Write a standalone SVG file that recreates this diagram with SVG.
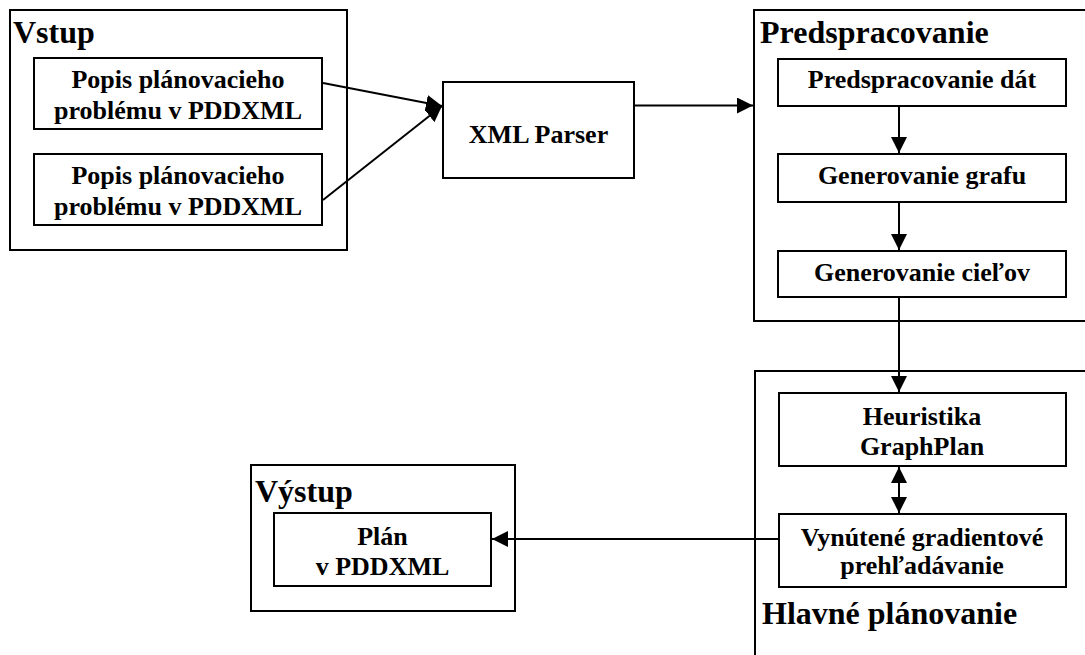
<svg xmlns="http://www.w3.org/2000/svg" width="1085" height="655" viewBox="0 0 1085 655">
  <style>
    .box { fill: #fff; stroke: #000; stroke-width: 2; }
    .frame { fill: none; stroke: #000; stroke-width: 2; }
    .edge { fill: none; stroke: #000; stroke-width: 2; }
    text { font-family: "Liberation Serif", "Times New Roman", serif; font-weight: bold; fill: #000; }
    .title { font-size: 32px; }
    .label { font-size: 26px; text-anchor: middle; }
  </style>
  <defs>
    <marker id="arrow" markerUnits="userSpaceOnUse" markerWidth="16" markerHeight="16" viewBox="0 0 16 16" refX="16" refY="8" orient="auto-start-reverse">
      <path d="M0,0 L16,8 L0,16 Z" fill="#000"/>
    </marker>
  </defs>
  <rect width="1085" height="655" fill="#fff"/>

  <!-- Input group -->
  <g id="vstup">
    <rect class="frame" x="10" y="10" width="337" height="240"/>
    <text class="title" x="13" y="43">Vstup</text>
  </g>
  <g id="popis1">
    <rect class="box" x="34" y="58" width="288" height="71"/>
    <text class="label" x="178" y="88">Popis plánovacieho</text>
    <text class="label" x="178" y="119">problému v PDDXML</text>
  </g>
  <g id="popis2">
    <rect class="box" x="34" y="154" width="288" height="71"/>
    <text class="label" x="178" y="184">Popis plánovacieho</text>
    <text class="label" x="178" y="215">problému v PDDXML</text>
  </g>

  <!-- Parser -->
  <g id="xml-parser">
    <rect class="box" x="443" y="82" width="191" height="96"/>
    <text class="label" x="538.5" y="143">XML Parser</text>
  </g>

  <!-- Preprocessing group -->
  <g id="predspracovanie">
    <rect class="frame" x="754" y="10" width="360" height="311"/>
    <text class="title" x="760" y="43">Predspracovanie</text>
  </g>
  <g id="predspracovanie-dat">
    <rect class="box" x="778" y="59" width="288" height="47"/>
    <text class="label" x="922" y="88">Predspracovanie dát</text>
  </g>
  <g id="generovanie-grafu">
    <rect class="box" x="778" y="154" width="288" height="48"/>
    <text class="label" x="922" y="184">Generovanie grafu</text>
  </g>
  <g id="generovanie-cielov">
    <rect class="box" x="778" y="251" width="288" height="46"/>
    <text class="label" x="922" y="281">Generovanie cieľov</text>
  </g>

  <!-- Main planning group -->
  <g id="hlavne-planovanie">
    <rect class="frame" x="755" y="371" width="360" height="320"/>
    <text class="title" x="762" y="624">Hlavné plánovanie</text>
  </g>
  <g id="heuristika">
    <rect class="box" x="779" y="393" width="287" height="73"/>
    <text class="label" x="922" y="425">Heuristika</text>
    <text class="label" x="922" y="455">GraphPlan</text>
  </g>
  <g id="vynutene">
    <rect class="box" x="779" y="514" width="287" height="73"/>
    <text class="label" x="922" y="546">Vynútené gradientové</text>
    <text class="label" x="922" y="574">prehľadávanie</text>
  </g>

  <!-- Output group -->
  <g id="vystup">
    <rect class="frame" x="251" y="465" width="264" height="146"/>
    <text class="title" x="255" y="502">Výstup</text>
  </g>
  <g id="plan">
    <rect class="box" x="274" y="513" width="217" height="73"/>
    <text class="label" x="382.5" y="545">Plán</text>
    <text class="label" x="382.5" y="575">v PDDXML</text>
  </g>

  <!-- Connectors -->
  <g id="connectors">
    <line class="edge" x1="323" y1="83" x2="442" y2="106" marker-end="url(#arrow)"/>
    <line class="edge" x1="323" y1="200" x2="442" y2="106" marker-end="url(#arrow)"/>
    <line class="edge" x1="634" y1="105.5" x2="753" y2="105.5" marker-end="url(#arrow)"/>
    <line class="edge" x1="899" y1="106" x2="899" y2="153" marker-end="url(#arrow)"/>
    <line class="edge" x1="899" y1="202" x2="899" y2="250" marker-end="url(#arrow)"/>
    <line class="edge" x1="899" y1="297" x2="899" y2="392" marker-end="url(#arrow)"/>
    <line class="edge" x1="899" y1="467" x2="899" y2="513" marker-start="url(#arrow)" marker-end="url(#arrow)"/>
    <line class="edge" x1="779" y1="539" x2="492" y2="539" marker-end="url(#arrow)"/>
  </g>
</svg>
